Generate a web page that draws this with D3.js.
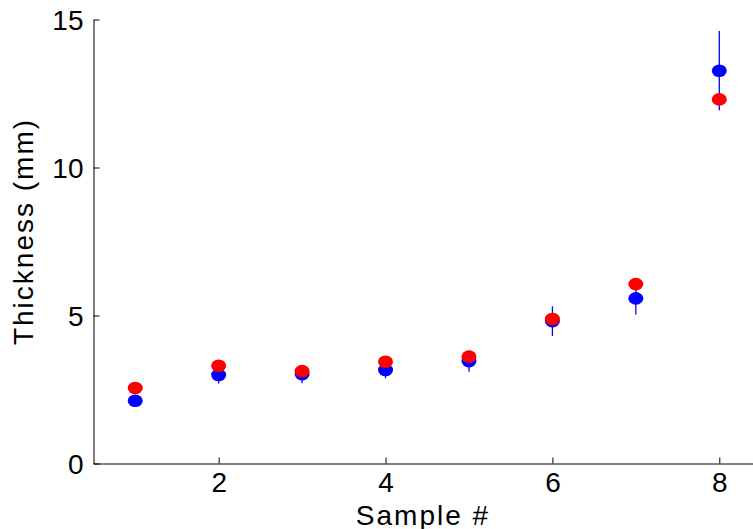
<!DOCTYPE html>
<html>
<head>
<meta charset="utf-8">
<script src="https://cdn.jsdelivr.net/npm/d3@7"></script>
<style>
  html, body { margin: 0; padding: 0; background: #fff; overflow: hidden; }
  svg { display: block; }
  text { font-family: "Liberation Sans", Arial, Helvetica, sans-serif; fill: #000; }
</style>
</head>
<body>
<script>
// ---- data ----
const samples = [1, 2, 3, 4, 5, 6, 7, 8];
const blueValues = [2.12, 2.99, 3.02, 3.16, 3.46, 4.81, 5.58, 13.27];
const blueErrors = [0.15, 0.29, 0.31, 0.28, 0.36, 0.50, 0.55, 1.34];
const redValues = [2.55, 3.30, 3.12, 3.44, 3.61, 4.88, 6.06, 12.30];
const xTicks = [2, 4, 6, 8];
const yTicks = [0, 5, 10, 15];
const xLabel = "Sample #";
const yLabel = "Thickness (mm)";

// ---- layout ----
const W = 753, H = 529;
const svg = d3.select("body").append("svg").attr("width", W).attr("height", H);

const x = d3.scaleLinear().domain([0.5, 8.5]).range([93.5, 761]);
const y = d3.scaleLinear().domain([0, 15]).range([463.5, 19.5]);

const g = svg.append("g");

// axes (ticks inward, MATLAB style)
const xAxis = d3.axisBottom(x).tickValues(xTicks).tickSizeInner(-6).tickSizeOuter(0).tickPadding(9).tickFormat(d3.format("d"));
const yAxis = d3.axisLeft(y).tickValues(yTicks).tickSizeInner(-6).tickSizeOuter(0).tickPadding(10).tickFormat(d3.format("d"));

const gx = g.append("g").attr("transform", `translate(0,${y(0)})`).call(xAxis);
const gy = g.append("g").attr("transform", `translate(${x(0.5)},0)`).call(yAxis);
[gx, gy].forEach(a => {
  a.select(".domain").attr("stroke", "#000").attr("stroke-width", 1);
  a.selectAll(".tick line").attr("stroke", "#000").attr("stroke-width", 1);
  a.selectAll(".tick text").attr("font-size", 28).attr("font-family", "Liberation Sans, Arial, sans-serif").attr("fill", "#000");
});
gy.selectAll(".tick text").attr("dy", "0.36em");

// error bars (blue series)
g.append("g").selectAll("line").data(samples).join("line")
  .attr("x1", (d) => x(d)).attr("x2", (d) => x(d))
  .attr("y1", (d, i) => y(blueValues[i] - blueErrors[i]))
  .attr("y2", (d, i) => y(blueValues[i] + blueErrors[i]))
  .attr("stroke", "#0000ff").attr("stroke-width", 1.3);

// blue markers
g.append("g").selectAll("ellipse").data(samples).join("ellipse")
  .attr("cx", (d) => x(d)).attr("cy", (d, i) => y(blueValues[i]))
  .attr("rx", 7.5).attr("ry", 6.3).attr("fill", "#0000ff");

// red markers
g.append("g").selectAll("ellipse").data(samples).join("ellipse")
  .attr("cx", (d) => x(d)).attr("cy", (d, i) => y(redValues[i]))
  .attr("rx", 7.5).attr("ry", 6.3).attr("fill", "#ff0000");

// axis labels
svg.append("text").attr("x", 423).attr("y", 524.5)
  .attr("text-anchor", "middle").attr("font-size", 28).attr("letter-spacing", "2px")
  .text(xLabel);

svg.append("text").attr("transform", "translate(33,231.5) rotate(-90)")
  .attr("text-anchor", "middle").attr("font-size", 28).attr("letter-spacing", "2px")
  .text(yLabel);
</script>
</body>
</html>
